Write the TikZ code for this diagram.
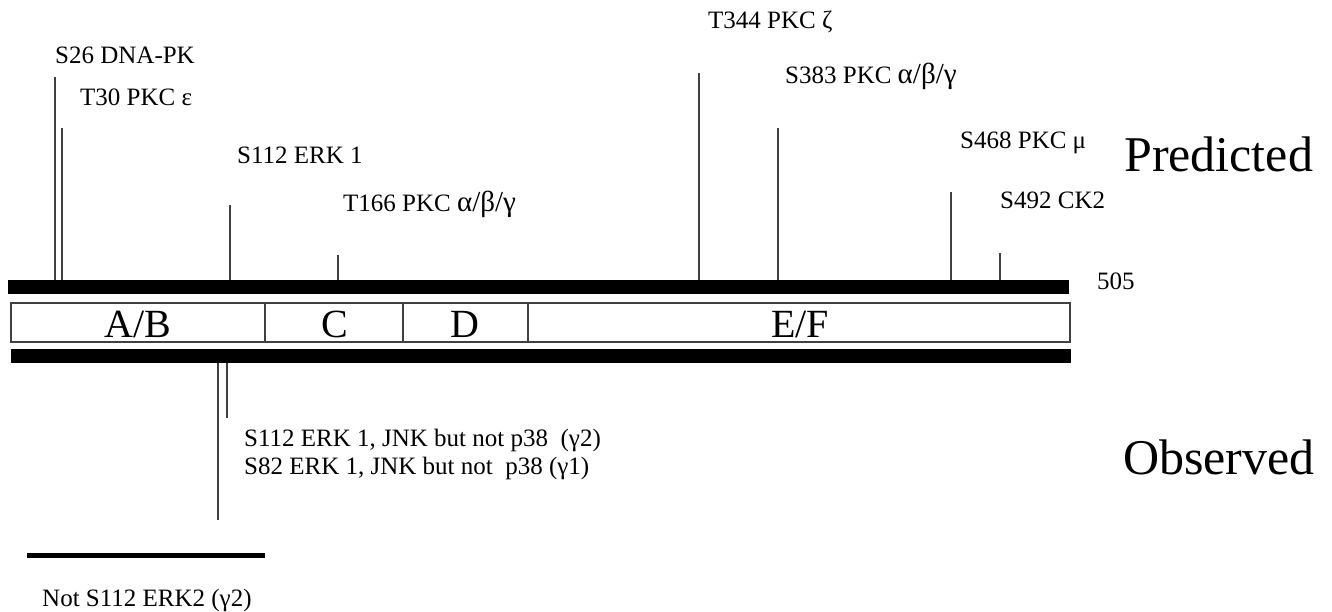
\documentclass[tikz,border=0pt]{standalone}
\usepackage{fontspec}
\setmainfont{Liberation Serif}
\newcommand{\abgset}{{\fontsize{29}{31}\selectfont α/β/γ}}
\begin{document}
\begin{tikzpicture}[x=1pt,y=-1pt,
  lbl/.style={anchor=base west, inner sep=0pt, font=\fontsize{25}{29}\selectfont},
  big/.style={anchor=base west, inner sep=0pt, font=\fontsize{50}{58}\selectfont},
  dom/.style={anchor=base, inner sep=0pt, font=\fontsize{40}{46}\selectfont},
  tick/.style={line width=2pt, draw=black!75},
  bar/.style={fill=black, draw=none},
  dbox/.style={line width=1.5pt, draw=black!75}]
\useasboundingbox (0,0) rectangle (1332,612);
% bars
\path[bar] (8,280) rectangle (1069,294);
\path[bar] (11,349) rectangle (1071,363);
% domain box
\draw[dbox] (11,303) rectangle (1070,342);
\draw[dbox] (265,303) -- (265,342);
\draw[dbox] (403,303) -- (403,342);
\draw[dbox] (528,303) -- (528,342);
\node[dom] (ab) at (138,337) {A/B};
\node[dom] (c) at (335,337) {C};
\node[dom] (d) at (465,337) {D};
\node[dom] (ef) at (800,337) {E/F};
% predicted ticks
\coordinate (b26) at (55,280);   \coordinate (t26) at (55,77);
\coordinate (b30) at (62,280);   \coordinate (t30) at (62,128);
\coordinate (b112) at (230,280); \coordinate (t112) at (230,205);
\coordinate (b166) at (338,280); \coordinate (t166) at (338,255);
\coordinate (b344) at (699,280); \coordinate (t344) at (699,73);
\coordinate (b383) at (778,280); \coordinate (t383) at (778,128);
\coordinate (b468) at (951,280); \coordinate (t468) at (951,192);
\coordinate (b492) at (1000,280);\coordinate (t492) at (1000,253);
\foreach \n in {26,30,112,166,344,383,468,492} \draw[tick] (b\n) -- (t\n);
\node[lbl] (l26) at (55,64) {S26 DNA-PK};
\node[lbl] (l30) at (80,106) {T30 PKC ε};
\node[lbl] (l112) at (237,164) {S112 ERK 1};
\node[lbl] (l166) at (343,212) {T166 PKC \abgset};
\node[lbl] (l344) at (708,29) {T344 PKC ζ};
\node[lbl] (l383) at (785,84) {S383 PKC \abgset};
\node[lbl] (l468) at (960,149) {S468 PKC μ};
\node[lbl] (l492) at (1000,209) {S492 CK2};
\node[lbl] (n505) at (1097,289) {505};
\node[big] (pred) at (1124,172) {Predicted};
\node[big] (obs) at (1123,474) {Observed};
% observed ticks
\coordinate (o82b) at (218,363);  \coordinate (o82t) at (218,520);
\coordinate (o112b) at (227,363); \coordinate (o112t) at (227,418);
\draw[tick] (o82b) -- (o82t);
\draw[tick] (o112b) -- (o112t);
\node[lbl] (ol1) at (244,446) {S112 ERK 1, JNK but not p38\ \ (γ2)};
\node[lbl] (ol2) at (244,474) {S82 ERK 1, JNK but not\ \ p38 (γ1)};
\coordinate (hl) at (27,555); \coordinate (hr) at (265,555);
\draw[line width=5pt] (hl) -- (hr);
\node[lbl] (not) at (42,606) {Not S112 ERK2 (γ2)};
\end{tikzpicture}
\end{document}
